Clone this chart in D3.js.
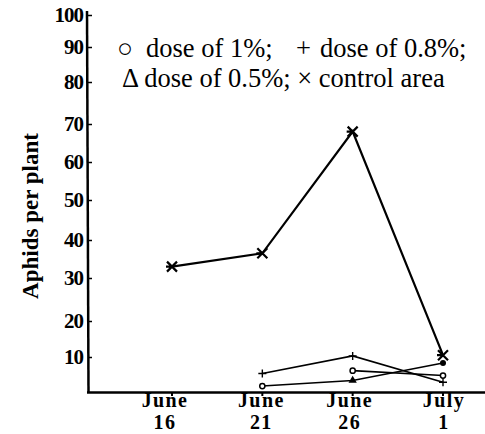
<!DOCTYPE html>
<html>

<head>
    <meta charset='utf-8'>
    <title>Aphids per plant</title>
    <script type='text/javascript' src='https://cdn.jsdelivr.net/npm/d3@7'></script>
</head>

<body style='margin:0'>
    <svg width='485' height='434'></svg>
    <script type='text/javascript'>

        const svg = d3.select('svg')
        const serif = 'Liberation Serif'

        // dates as day numbers (July 1 = day 31)
        const days = [16, 21, 26, 31]
        const dateLabels = [['June', '16'], ['June', '21'], ['June', '26'], ['July', '1']]
        const yTicks = [10, 20, 30, 40, 50, 60, 70, 80, 90, 100]

        // aphids per plant
        const control = [33, 36.5, 68, 10.5]
        const dose08 = [null, 5.3, 10.3, 2.8]
        const dose1 = [null, null, 6.1, 4.7]
        const dose05 = [null, 1.7, 3.3, 8.3]

        const x = d3.scaleLinear().domain([16, 31]).range([172, 443])
        // the printed axis is hand drawn: ticks are not evenly spaced, so map each decade
        const y = d3.scaleLinear()
            .domain([0, 10, 20, 30, 40, 50, 60, 70, 80, 90, 100])
            .range([392, 357, 321, 278, 240, 200, 162, 124, 82, 47, 15])

        // axes
        const yAxis = d3.axisLeft(y).tickValues(yTicks).tickSize(-4).tickPadding(5)
        const gy = svg.append('g').attr('transform', 'translate(88,0)').call(yAxis)
        gy.select('.domain').remove()
        gy.selectAll('line').attr('stroke', '#000').attr('stroke-width', 1.5)
        gy.selectAll('text')
            .attr('font-family', serif).attr('font-size', 21).attr('font-weight', 'bold')
            .attr('letter-spacing', '-1').attr('fill', '#000')

        svg.append('line').attr('x1', 87).attr('x2', 88.5).attr('y1', 11).attr('y2', 393)
            .attr('stroke', '#000').attr('stroke-width', 2.5)
        svg.append('line').attr('x1', 87).attr('x2', 485).attr('y1', 392.5).attr('y2', 392.5)
            .attr('stroke', '#000').attr('stroke-width', 2.5)

        // x tick marks and two-line labels
        svg.selectAll('.xtick').data(days).enter().append('line')
            .attr('x1', d => x(d)).attr('x2', d => x(d)).attr('y1', 392).attr('y2', 396)
            .attr('stroke', '#000').attr('stroke-width', 2)

        const labelShift = [-7, -1, -3, 1]
        const xl = svg.selectAll('.xlab').data(dateLabels).enter().append('text')
            .attr('text-anchor', 'middle')
            .attr('font-family', serif).attr('font-size', 20).attr('font-weight', 'bold')
            .attr('letter-spacing', 1.4)
        xl.append('tspan').attr('x', (d, i) => x(days[i]) + labelShift[i])
            .attr('y', 407).text(d => d[0])
        xl.append('tspan').attr('x', (d, i) => x(days[i]) + labelShift[i])
            .attr('y', 429).text(d => d[1])

        // y title
        svg.append('text')
            .attr('transform', 'translate(38,216) rotate(-90)')
            .attr('text-anchor', 'middle')
            .attr('font-family', serif).attr('font-size', 23).attr('font-weight', 'bold')
            .text('Aphids per plant')

        // lines
        const pts = vals => days.map((d, i) => ({ day: d, v: vals[i] }))
        const line = d3.line().defined(d => d.v != null).x(d => x(d.day)).y(d => y(d.v))

        const series = [
            { vals: control, width: 2.2, marks: ['x', 'x', 'x', 'x'] },
            { vals: dose08, width: 1.6, marks: ['', '+', '+', '+'] },
            { vals: dose1, width: 1.6, marks: ['', '', 'o', 'o'] },
            { vals: dose05, width: 1.6, marks: ['', 'o', 'tri', 'dot'] }
        ]

        series.forEach(s => {
            const p = pts(s.vals)
            svg.append('path').attr('d', line(p))
                .attr('fill', 'none').attr('stroke', '#000').attr('stroke-width', s.width)
            p.forEach((d, i) => {
                if (d.v == null || !s.marks[i]) return
                const cx = x(d.day), cy = y(d.v), m = s.marks[i]
                const g = svg.append('g').attr('transform', `translate(${cx},${cy})`)
                if (m == 'x') {
                    g.append('path').attr('d', 'M-5,-5L5,5M-5,5L5,-5M-6,0L0,0')
                        .attr('stroke', '#000').attr('stroke-width', 2.2)
                } else if (m == '+') {
                    g.append('path').attr('d', 'M-4,0L4,0M0,-4L0,4')
                        .attr('stroke', '#000').attr('stroke-width', 1.4)
                } else if (m == 'o') {
                    g.append('circle').attr('r', 2.6).attr('fill', '#fff')
                        .attr('stroke', '#000').attr('stroke-width', 1.5)
                } else if (m == 'tri') {
                    g.append('path').attr('d', d3.symbol(d3.symbolTriangle, 30)())
                } else if (m == 'dot') {
                    g.append('circle').attr('r', 3)
                }
            })
        })

        // legend
        const leg = svg.append('g').attr('font-family', serif).attr('font-size', 26.5).attr('fill', '#000')
        leg.append('text').attr('x', 117).attr('y', 57).text('○')
        leg.append('text').attr('x', 146).attr('y', 57).text('dose of 1%;')
        leg.append('text').attr('x', 296).attr('y', 57).text('+')
        leg.append('text').attr('x', 320).attr('y', 57).text('dose of 0.8%;')
        leg.append('text').attr('x', 122).attr('y', 87).text('Δ dose of 0.5%; × control area')
    </script>
</body>

</html>
